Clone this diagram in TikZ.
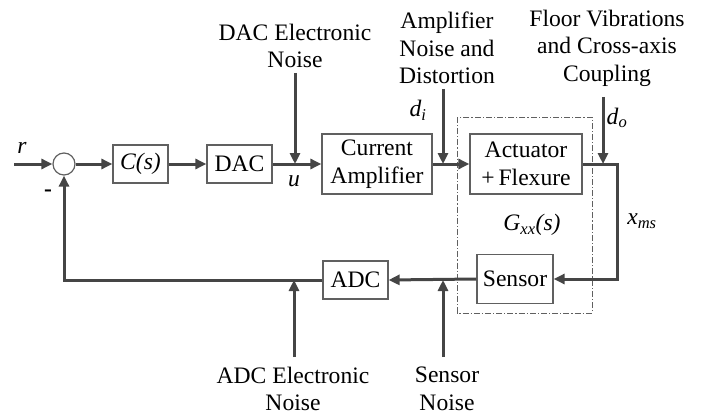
\documentclass[tikz,border=0pt]{standalone}
\usepackage{fontspec}
\setmainfont{LiberationSerif}[Extension=.ttf, UprightFont=*-Regular, BoldFont=*-Bold, ItalicFont=*-Italic, BoldItalicFont=*-BoldItalic]
\usetikzlibrary{arrows.meta}
\definecolor{ln}{HTML}{454545}
\definecolor{bx}{HTML}{606060}
\tikzset{
 blk/.style={draw=bx, line width=1.2pt, inner sep=2pt, align=center, font=\fontsize{23.6}{28}\selectfont},
 sig/.style={draw=ln, line width=3pt, -{Triangle[length=11pt,width=10pt]}},
 lbl/.style={align=center, inner sep=0pt, font=\fontsize{23.6}{27.5}\selectfont},
}
\begin{document}
\begin{tikzpicture}[x=1pt,y=-1pt]
\useasboundingbox (0,0) rectangle (719,417);
% blocks
\node[circle, draw=bx, line width=1.2pt, minimum size=22pt, inner sep=0pt] (sum) at (64,164) {};
\node[blk, minimum width=55pt, minimum height=38pt] (C) at (140.5,164) {\textit{C(s)}};
\node[blk, minimum width=65pt, minimum height=38pt] (DAC) at (239.5,164) {DAC};
\node[blk, minimum width=110pt, minimum height=60pt] (Camp) at (377,164) {Current\\Amplifier};
\node[blk, minimum width=112pt, minimum height=60pt] (Act) at (526,164) {Actuator\\+\,Flexure};
\node[blk, minimum width=76pt, minimum height=49pt] (Sen) at (515,279) {Sensor};
\node[blk, minimum width=65pt, minimum height=38pt] (ADC) at (355.5,280) {ADC};
% G box
\draw[bx, line width=0.8pt, dash pattern=on 6pt off 2pt on 1.2pt off 2pt] (457,117) rectangle (592,313);
% texts
\node[lbl] (tdac) at (295,46) {DAC Electronic\\Noise};
\node[lbl] (tamp) at (447,48) {Amplifier\\Noise and\\Distortion};
\node[lbl] (tfloor) at (607,48) {Floor Vibrations\\and Cross-axis\\Coupling};
\node[lbl] (tadc) at (293,389) {ADC Electronic\\Noise};
\node[lbl] (tsen) at (447,389) {Sensor\\Noise};
\node[lbl] (lr) at (22,148) {\textit{r}};
\node[lbl] (lminus) at (48,193) {\textbf{-}};
\node[lbl] (lu) at (294,181) {\textit{u}};
\node[lbl] (ldi) at (418,110) {\textit{d\textsubscript{i}}};
\node[lbl] (ldo) at (617,118) {\textit{d\textsubscript{o}}};
\node[lbl] (lx) at (642,221) {\textit{x\textsubscript{ms}}};
\node[lbl] (lg) at (532,225) {\textit{G\textsubscript{xx}(s)}};
% coordinates
\coordinate (rin) at (14,164);
\coordinate (n1) at (295,73);
\coordinate (n2) at (443,89);
\coordinate (n3) at (603,97);
\coordinate (n4) at (294,357);
\coordinate (n5) at (443,357);
\coordinate (j1) at (295,164);
\coordinate (j2) at (443,164);
\coordinate (j3) at (603,164);
\coordinate (cr) at (617,164);
\coordinate (j4) at (294,280);
\coordinate (j5) at (443,280);
% connectors
\draw[sig] (rin) -- (sum.west);
\draw[sig] (sum.east) -- (C.west);
\draw[sig] (C.east) -- (DAC.west);
\draw[sig] (DAC.east) -- (Camp.west);
\draw[sig] (Camp.east) -- (Act.west);
\draw[sig] (n1) -- (j1);
\draw[sig] (n2) -- (j2);
\draw[sig] (n3) -- (j3);
\draw[sig] (Act.east) -- (cr) |- (Sen.east);
\draw[sig] (Sen.west) -- (ADC.east);
\draw[sig] (ADC.west) -| (sum.south);
\draw[sig] (n4) -- (j4);
\draw[sig] (n5) -- (j5);
\end{tikzpicture}
\end{document}
